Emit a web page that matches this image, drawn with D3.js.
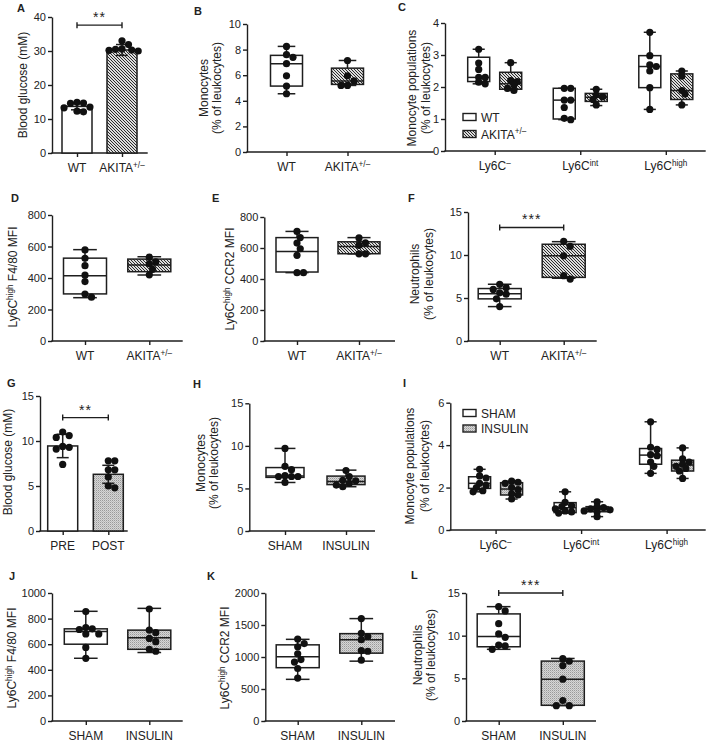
<!DOCTYPE html>
<html>
<head>
<meta charset="utf-8">
<script src="https://cdn.jsdelivr.net/npm/d3@7"></script>
<style>
  body { margin: 0; background: #fff; }
  text { font-family: "Liberation Sans", Arial, sans-serif; fill: #222; }
</style>
</head>
<body>
<script>
// ---------- data ----------
// A: blood glucose, bars = mean +/- SD
const aGroups = ["WT", "AKITA^+/–"];
const aWT = [14.9, 14.7, 14.6, 13.5, 13.3, 12.3, 12.1];
const aAKITA = [33.0, 31.9, 30.6, 30.5, 30.3, 30.2, 30.0];
const aMean = [13.7, 30.3];
const aSD = [1.0, 1.6];
const aTicks = [0, 10, 20, 30, 40];

// B: monocytes; box = [min, q1, median, q3, max]
const bGroups = ["WT", "AKITA^+/–"];
const bWT = [8.25, 7.6, 7.4, 6.9, 5.95, 5.15, 4.55];
const bAKITA = [7.15, 5.95, 5.55, 5.2, 5.2];
const bBoxWT = [4.55, 5.15, 6.9, 7.55, 8.25];
const bBoxAKITA = [5.2, 5.28, 5.55, 6.55, 7.15];
const bTicks = [0, 2, 4, 6, 8, 10];

// C: monocyte populations
const cCats = ["Ly6C^–", "Ly6C^int", "Ly6C^high"];
const cSeries = ["WT", "AKITA^+/–"];
const cWT = [[3.18, 2.75, 2.55, 2.3, 2.3, 2.15, 2.1], [1.96, 1.96, 1.59, 1.59, 1.36, 1.02, 0.98], [3.71, 2.98, 2.69, 2.64, 2.5, 1.98, 1.3]];
const cAKITA = [[2.76, 2.2, 2.17, 2.06, 1.96, 1.89], [1.93, 1.75, 1.7, 1.61, 1.44], [2.5, 2.34, 1.89, 1.78, 1.44]];
const cBoxWT = [[2.1, 2.17, 2.3, 2.93, 3.18], [0.98, 1.0, 1.59, 1.96, 1.96], [1.3, 1.98, 2.64, 2.98, 3.71]];
const cBoxAKITA = [[1.89, 1.93, 2.1, 2.46, 2.76], [1.42, 1.55, 1.68, 1.8, 1.93], [1.44, 1.61, 1.89, 2.41, 2.5]];
const cTicks = [0, 1, 2, 3, 4];

// D: Ly6Chigh F4/80 MFI
const dWT = [578, 525, 478, 418, 377, 298, 278];
const dAKITA = [532, 502, 490, 455, 420];
const dBoxWT = [275, 299, 415, 526, 580];
const dBoxAKITA = [419, 440, 482, 520, 535];
const dTicks = [0, 200, 400, 600, 800];

// E: Ly6Chigh CCR2 MFI
const eWT = [707, 667, 632, 595, 553, 441, 441];
const eAKITA = [665, 634, 617, 562, 562];
const eBoxWT = [441, 445, 578, 667, 707];
const eBoxAKITA = [562, 563, 610, 640, 667];
const eTicks = [0, 200, 400, 600, 800];

// F: neutrophils
const fWT = [6.6, 6.2, 6.0, 5.6, 5.45, 4.9, 4.0];
const fAKITA = [11.6, 11.0, 9.9, 7.6, 7.2];
const fBoxWT = [4.0, 4.9, 5.5, 6.1, 6.6];
const fBoxAKITA = [7.3, 7.4, 9.9, 11.25, 11.55];
const fTicks = [0, 5, 10, 15];

// G: blood glucose pre/post
const gGroups = ["PRE", "POST"];
const gPRE = [11.0, 10.6, 10.4, 9.4, 9.3, 9.1, 7.4];
const gPOST = [7.8, 7.8, 6.8, 6.8, 6.0, 5.0, 4.8];
const gMean = [9.45, 6.3];
const gSD = [1.3, 1.0];
const gTicks = [0, 5, 10, 15];

// H: monocytes sham/insulin
const hGroups = ["SHAM", "INSULIN"];
const hSHAM = [9.7, 7.6, 7.2, 6.5, 6.4, 6.4, 6.4, 5.7];
const hINSULIN = [7.1, 6.4, 5.95, 5.9, 5.6, 5.4, 5.2];
const hBoxSHAM = [5.7, 6.3, 6.45, 7.45, 9.7];
const hBoxINSULIN = [5.2, 5.45, 5.8, 6.45, 7.15];
const hTicks = [0, 5, 10, 15];

// I: monocyte populations sham/insulin
const iSeries = ["SHAM", "INSULIN"];
const iSHAM = [[2.86, 2.55, 2.45, 2.2, 2.1, 2.0, 1.85, 1.8], [1.8, 1.3, 1.15, 1.1, 1.0, 0.9, 0.85, 0.8], [5.1, 3.9, 3.8, 3.55, 3.5, 3.2, 3.0, 2.67]];
const iINSULIN = [[2.3, 2.25, 2.2, 2.0, 1.9, 1.7, 1.65, 1.46], [1.33, 1.1, 1.05, 1.0, 0.95, 0.9, 0.86, 0.63], [3.87, 3.35, 3.2, 3.1, 3.0, 2.9, 2.78, 2.43]];
const iBoxSHAM = [[1.8, 1.96, 2.2, 2.51, 2.86], [0.8, 0.82, 1.05, 1.29, 1.8], [2.67, 3.1, 3.53, 3.84, 5.1]];
const iBoxINSULIN = [[1.46, 1.65, 1.93, 2.23, 2.3], [0.63, 0.86, 0.98, 1.1, 1.33], [2.43, 2.78, 3.06, 3.29, 3.87]];
const iTicks = [0, 2, 4, 6];

// J: F4/80 MFI
const jSHAM = [855, 730, 720, 715, 680, 680, 575, 490];
const jINSULIN = [875, 710, 690, 645, 620, 560, 545];
const jBoxSHAM = [490, 600, 700, 720, 857];
const jBoxINSULIN = [535, 560, 650, 710, 880];
const jTicks = [0, 200, 400, 600, 800, 1000];

// K: CCR2 MFI
const kSHAM = [1280, 1210, 1160, 1050, 960, 920, 820, 670];
const kINSULIN = [1600, 1370, 1320, 1270, 1100, 1090, 950];
const kBoxSHAM = [651, 833, 1005, 1190, 1276];
const kBoxINSULIN = [935, 1060, 1270, 1365, 1600];
const kTicks = [0, 500, 1000, 1500, 2000];

// L: neutrophils
const lSHAM = [13.4, 12.9, 11.4, 10.2, 9.8, 8.9, 8.8, 8.4];
const lINSULIN = [7.3, 7.0, 6.5, 4.9, 2.4, 1.8, 1.8];
const lBoxSHAM = [8.4, 8.7, 9.9, 12.55, 13.4];
const lBoxINSULIN = [1.8, 1.84, 4.9, 7.02, 7.33];
const lTicks = [0, 5, 10, 15];

// ---------- drawing ----------
const INK = "#1e1e1e";
const R = 3.6;

const svg = d3.select("body").append("svg")
  .attr("width", 709)
  .attr("height", 742);

const defs = svg.append("defs");
const hatch = defs.append("pattern").attr("id", "hatch")
  .attr("patternUnits", "userSpaceOnUse").attr("width", 3).attr("height", 3);
hatch.append("rect").attr("width", 3).attr("height", 3).attr("fill", "#dcdcdc");
hatch.append("path").attr("d", "M-1,-1L4,4M-1,2L1,4M2,-1L4,1")
  .attr("stroke", "#2a2a2a").attr("stroke-width", 1);
const grain = defs.append("pattern").attr("id", "grain")
  .attr("patternUnits", "userSpaceOnUse").attr("width", 2).attr("height", 2);
grain.append("rect").attr("width", 2).attr("height", 2).attr("fill", "#d6d6d6");
grain.append("rect").attr("width", 1).attr("height", 1).attr("fill", "#999");
grain.append("rect").attr("x", 1).attr("y", 1).attr("width", 1).attr("height", 1).attr("fill", "#bababa");

const fills = { "WT": "#fff", "SHAM": "#fff", "PRE": "#fff",
  "AKITA^+/–": "url(#hatch)", "INSULIN": "url(#grain)", "POST": "url(#grain)" };

// text with superscript: "Ly6C^high F4/80" -> sup runs up to next space
function rich(sel, s) {
  const parts = s.split("^");
  sel.append("tspan").text(parts[0]);
  parts.slice(1).forEach(p => {
    const sp = p.indexOf(" ");
    const sup = sp < 0 ? p : p.slice(0, sp);
    const rest = sp < 0 ? "" : p.slice(sp);
    sel.append("tspan").attr("font-size", "0.68em").attr("dy", -4.5).text(sup);
    if (rest) sel.append("tspan").attr("dy", 4.5).text(rest);
  });
}

function frame(o) {
  const g = svg.append("g");
  const y = d3.scaleLinear().domain([o.ticks[0], o.ticks[o.ticks.length - 1]]).range([o.yb, o.yt]);
  const x = d3.scalePoint().domain(o.cats).range(o.xr);

  const ya = g.append("g").attr("transform", `translate(${o.ax},0)`)
    .call(d3.axisLeft(y).tickValues(o.ticks).tickFormat(d3.format("d"))
      .tickSize(4).tickSizeOuter(0).tickPadding(2));
  const xa = g.append("g").attr("transform", `translate(0,${o.yb})`)
    .call(d3.axisBottom(x).tickSize(4).tickFormat(""));
  xa.select(".domain").remove();
  g.append("line")
    .attr("x1", o.ax).attr("x2", o.ax2).attr("y1", o.yb).attr("y2", o.yb)
    .attr("stroke", INK).attr("stroke-width", 1.4).attr("stroke-linecap", "square");
  [ya, xa].forEach(a => {
    a.selectAll("path,line").attr("stroke", INK).attr("stroke-width", 1.4);
    a.attr("font-family", null).attr("font-size", 11);
    a.selectAll("text").attr("fill", INK);
  });

  g.selectAll(".xl").data(o.cats).join("text")
    .attr("class", "xl")
    .attr("x", d => x(d))
    .attr("y", o.yb + 19)
    .attr("text-anchor", "middle")
    .attr("font-size", 12)
    .each(function (d) { rich(d3.select(this), d); });

  o.ylab.forEach((t, i) => {
    const tx = g.append("text")
      .attr("transform", `translate(${o.ylx[i]},${o.yly}) rotate(-90)`)
      .attr("text-anchor", "middle")
      .attr("font-size", 12);
    rich(tx, t);
  });

  g.append("text").attr("x", o.lx).attr("y", o.ly)
    .attr("font-weight", "bold").attr("font-size", 11).text(o.letter);
  return { g, x, y };
}

// simple swarm so that dots don't sit on top of each other
function swarm(vals, cx, y, gap) {
  const pts = [];
  vals.slice().sort((a, b) => b - a).forEach(v => {
    const py = y(v);
    let px = cx;
    for (let i = 0; i < 40; i++) {
      const off = i === 0 ? 0 : Math.ceil(i / 2) * R * 0.9 * (i % 2 ? 1 : -1);
      px = cx + off;
      if (pts.every(p => Math.hypot(p[0] - px, p[1] - py) >= R * gap)) break;
    }
    pts.push([px, py]);
  });
  return pts;
}

function dots(g, vals, cx, y, gap = 1.75) {
  g.append("g").selectAll("circle").data(swarm(vals, cx, y, gap)).join("circle")
    .attr("cx", d => d[0]).attr("cy", d => d[1]).attr("r", R).attr("fill", "#111");
}

function box(g, y, cx, w, s, fill) {
  const [mn, q1, md, q3, mx] = s;
  const cap = w * 0.55;
  const b = g.append("g").attr("stroke", INK).attr("stroke-width", 1.5);
  b.append("line").attr("x1", cx).attr("x2", cx).attr("y1", y(q3)).attr("y2", y(mx));
  b.append("line").attr("x1", cx).attr("x2", cx).attr("y1", y(q1)).attr("y2", y(mn));
  b.append("line").attr("x1", cx - cap / 2).attr("x2", cx + cap / 2).attr("y1", y(mx)).attr("y2", y(mx));
  b.append("line").attr("x1", cx - cap / 2).attr("x2", cx + cap / 2).attr("y1", y(mn)).attr("y2", y(mn));
  b.append("rect").attr("x", cx - w / 2).attr("width", w)
    .attr("y", y(q3)).attr("height", y(q1) - y(q3)).attr("fill", fill);
  b.append("line").attr("x1", cx - w / 2).attr("x2", cx + w / 2).attr("y1", y(md)).attr("y2", y(md));
}

function bar(g, y, cx, w, mean, sd, fill) {
  const b = g.append("g").attr("stroke", INK).attr("stroke-width", 1.5);
  b.append("rect").attr("x", cx - w / 2).attr("width", w)
    .attr("y", y(mean)).attr("height", y(0) - y(mean)).attr("fill", fill);
  b.append("line").attr("x1", cx).attr("x2", cx).attr("y1", y(mean - sd)).attr("y2", y(mean + sd));
  [mean - sd, mean + sd].forEach(v => b.append("line")
    .attr("x1", cx - 6).attr("x2", cx + 6).attr("y1", y(v)).attr("y2", y(v)));
}

function bracket(g, x1, x2, yy, label) {
  const b = g.append("g").attr("stroke", INK).attr("stroke-width", 1.4);
  b.append("line").attr("x1", x1).attr("x2", x2).attr("y1", yy).attr("y2", yy);
  [x1, x2].forEach(xx => b.append("line").attr("x1", xx).attr("x2", xx).attr("y1", yy - 3).attr("y2", yy + 3));
  g.append("text").attr("x", (x1 + x2) / 2).attr("y", yy - 3)
    .attr("text-anchor", "middle").attr("font-size", 14).attr("letter-spacing", 1).text(label);
}

function legend(g, series, x0, ys) {
  series.forEach((s, i) => {
    g.append("rect").attr("x", x0).attr("y", ys[i] - 3.5).attr("width", 13).attr("height", 7)
      .attr("fill", fills[s]).attr("stroke", INK).attr("stroke-width", 1.4);
    const t = g.append("text").attr("x", x0 + 18).attr("y", ys[i] + 4.5).attr("font-size", 12);
    rich(t, s);
  });
}

// two-group box plot panel
function boxPanel(o, groups, pts, boxes, w) {
  const p = frame(Object.assign({ cats: groups }, o));
  groups.forEach((gname, i) => {
    box(p.g, p.y, p.x(gname), w, boxes[i], fills[gname]);
    dots(p.g, pts[i], p.x(gname), p.y);
  });
  return p;
}

// grouped box plot panel (C, I)
function groupPanel(o, series, pts, boxes) {
  const p = frame(o);
  const off = d3.scalePoint().domain(series).range([-16, 16]);
  o.cats.forEach((c, ci) => {
    series.forEach((s, si) => {
      const cx = p.x(c) + off(s);
      box(p.g, p.y, cx, 22, boxes[si][ci], fills[s]);
      dots(p.g, pts[si][ci], cx, p.y, 1.3);
    });
  });
  return p;
}

// ---- A ----
const pA = frame({ letter: "A", lx: 17, ly: 12, ax: 52, ax2: 147, yb: 153, yt: 17, ticks: aTicks,
  cats: aGroups, xr: [77, 122], ylab: ["Blood glucose (mM)"], ylx: [27], yly: 85 });
[aWT, aAKITA].forEach((v, i) => {
  bar(pA.g, pA.y, pA.x(aGroups[i]), 30, aMean[i], aSD[i], fills[aGroups[i]]);
  dots(pA.g, v, pA.x(aGroups[i]), pA.y);
});
bracket(pA.g, pA.x(aGroups[0]), pA.x(aGroups[1]), pA.y(37.6), "**");

// ---- B ----
boxPanel({ letter: "B", lx: 194, ly: 15, ax: 247, ax2: 433, yb: 152, yt: 24, ticks: bTicks,
  xr: [286.5, 347.5], ylab: ["Monocytes", "(% of leukocytes)"], ylx: [208, 221], yly: 88 },
  bGroups, [bWT, bAKITA], [bBoxWT, bBoxAKITA], 32);

// ---- C ----
const pC = groupPanel({ letter: "C", lx: 398, ly: 11, ax: 445, ax2: 705, yb: 151, yt: 23, ticks: cTicks,
  cats: cCats, xr: [494.7, 665.8], ylab: ["Monocyte populations", "(% of leukocytes)"], ylx: [416, 430], yly: 88 },
  cSeries, [cWT, cAKITA], [cBoxWT, cBoxAKITA]);
legend(pC.g, cSeries, 463, [117, 134]);

// ---- D ----
boxPanel({ letter: "D", lx: 11, ly: 202, ax: 52, ax2: 182, yb: 341, yt: 215, ticks: dTicks,
  xr: [85, 149.3], ylab: ["Ly6C^high F4/80 MFI"], ylx: [17], yly: 277 },
  bGroups, [dWT, dAKITA], [dBoxWT, dBoxAKITA], 43);

// ---- E ----
boxPanel({ letter: "E", lx: 212, ly: 202, ax: 264.3, ax2: 394.3, yb: 341, yt: 217, ticks: eTicks,
  xr: [297, 359], ylab: ["Ly6C^high CCR2 MFI"], ylx: [234], yly: 279 },
  bGroups, [eWT, eAKITA], [eBoxWT, eBoxAKITA], 42);

// ---- F ----
const pF = boxPanel({ letter: "F", lx: 408, ly: 202, ax: 468, ax2: 596, yb: 341, yt: 212, ticks: fTicks,
  xr: [499.7, 563.7], ylab: ["Neutrophils", "(% of leukocytes)"], ylx: [419, 433], yly: 274 },
  bGroups, [fWT, fAKITA], [fBoxWT, fBoxAKITA], 43);
bracket(pF.g, pF.x(bGroups[0]), pF.x(bGroups[1]), pF.y(13.2), "***");

// ---- G ----
const pG = frame({ letter: "G", lx: 7, ly: 387, ax: 40, ax2: 127, yb: 531, yt: 396, ticks: gTicks,
  cats: gGroups, xr: [62.7, 108.3], ylab: ["Blood glucose (mM)"], ylx: [12], yly: 462 });
[gPRE, gPOST].forEach((v, i) => {
  bar(pG.g, pG.y, pG.x(gGroups[i]), 30, gMean[i], gSD[i], fills[gGroups[i]]);
  dots(pG.g, v, pG.x(gGroups[i]), pG.y);
});
bracket(pG.g, pG.x(gGroups[0]), pG.x(gGroups[1]), pG.y(12.6), "**");

// ---- H ----
boxPanel({ letter: "H", lx: 193, ly: 388, ax: 249.3, ax2: 374.3, yb: 531, yt: 403.3, ticks: hTicks,
  xr: [285, 346], ylab: ["Monocytes", "(% of leukocytes)"], ylx: [205, 218], yly: 463 },
  hGroups, [hSHAM, hINSULIN], [hBoxSHAM, hBoxINSULIN], 38);

// ---- I ----
const pI = groupPanel({ letter: "I", lx: 403, ly: 387, ax: 450.3, ax2: 705, yb: 530, yt: 402.7, ticks: iTicks,
  cats: cCats, xr: [495.6, 666.6], ylab: ["Monocyte populations", "(% of leukocytes)"], ylx: [414, 429], yly: 466 },
  iSeries, [iSHAM, iINSULIN], [iBoxSHAM, iBoxINSULIN]);
legend(pI.g, iSeries, 463, [413, 428.5]);

// ---- J ----
boxPanel({ letter: "J", lx: 9, ly: 580, ax: 52, ax2: 182, yb: 721, yt: 593, ticks: jTicks,
  xr: [85.8, 149.3], ylab: ["Ly6C^high F4/80 MFI"], ylx: [16], yly: 658 },
  hGroups, [jSHAM, jINSULIN], [jBoxSHAM, jBoxINSULIN], 43);

// ---- K ----
boxPanel({ letter: "K", lx: 207, ly: 580, ax: 265.3, ax2: 394.3, yb: 721, yt: 593, ticks: kTicks,
  xr: [297.7, 361.3], ylab: ["Ly6C^high CCR2 MFI"], ylx: [229], yly: 658 },
  hGroups, [kSHAM, kINSULIN], [kBoxSHAM, kBoxINSULIN], 43);

// ---- L ----
const pL = boxPanel({ letter: "L", lx: 411, ly: 579, ax: 466, ax2: 595.3, yb: 721, yt: 593, ticks: lTicks,
  xr: [498.7, 562.8], ylab: ["Neutrophils", "(% of leukocytes)"], ylx: [422, 435], yly: 655 },
  hGroups, [lSHAM, lINSULIN], [lBoxSHAM, lBoxINSULIN], 43);
bracket(pL.g, pL.x(hGroups[0]), pL.x(hGroups[1]), pL.y(15), "***");
</script>
</body>
</html>
